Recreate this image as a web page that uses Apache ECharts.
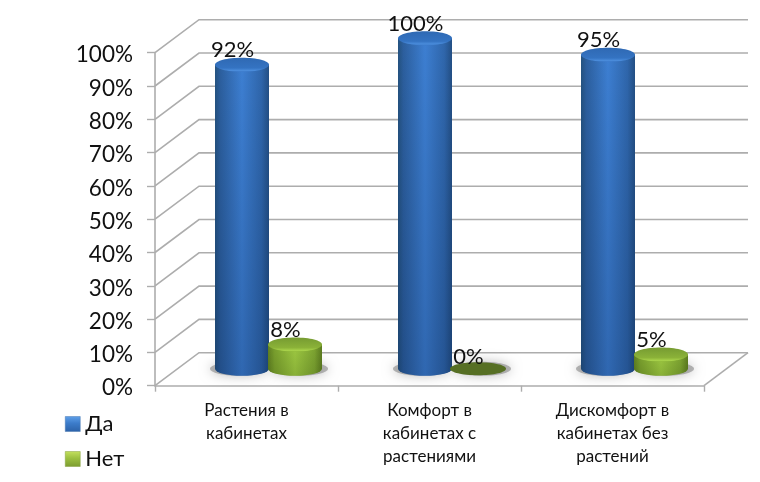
<!DOCTYPE html>
<html>
<head>
<meta charset="utf-8">
<style>html,body{margin:0;padding:0;background:#fff}#c{width:760px;height:482px}</style>
<script src="https://cdn.jsdelivr.net/npm/echarts@6/dist/echarts.min.js"></script>
</head>
<body>
<div id="c"></div>
<script>
const categories = ['Растения в\nкабинетах', 'Комфорт в\nкабинетах с\nрастениями', 'Дискомфорт в\nкабинетах без\nрастений'];
const seriesNames = ['Да', 'Нет'];
const valuesYes = [92, 100, 95];
const valuesNo = [8, 0, 5];
const yTicks = [0, 10, 20, 30, 40, 50, 60, 70, 80, 90, 100];

const FONT = 'Lato, "Open Sans", "Noto Sans", sans-serif';
const GRID_COLOR = '#adadad';
const DEPTH_X = 44, DEPTH_Y = 33;       // oblique projection of the 3D box
const TOP_LIFT = 14.5, BASE_LIFT = 17;  // where the cylinder ends sit inside the depth
const RX = 27, RY = 7;                  // cylinder radii
const BAR_OFFSET = 26.5;

const H = (stops) => ({type:'linear',x:0,y:0,x2:1,y2:0,colorStops:stops.map(s=>({offset:s[0],color:s[1]}))});
const V = (stops) => ({type:'linear',x:0,y:0,x2:0,y2:1,colorStops:stops.map(s=>({offset:s[0],color:s[1]}))});

const palette = {
  yes: {
    body: H([[0,'#24527f'],[.1,'#2c5f9e'],[.5,'#3d7fd2'],[.86,'#2f66ab'],[1,'#234f84']]),
    shade: V([[0,'rgba(0,20,60,0)'],[1,'rgba(0,20,60,.22)']]),
    top: V([[0,'#2f69b3'],[.72,'#3473c2'],[.92,'#4b8ddc'],[1,'#3a78c8']]),
    legend: V([[0,'#5fa0ea'],[.45,'#3c7cca'],[1,'#2c62a8']])
  },
  no: {
    body: H([[0,'#5f7f22'],[.12,'#7aa02e'],[.5,'#9ec942'],[.86,'#7ea532'],[1,'#5c7c20']]),
    shade: V([[0,'rgba(30,50,0,0)'],[1,'rgba(30,50,0,.16)']]),
    top: V([[0,'#769b32'],[.72,'#8bb238'],[.92,'#a8d24a'],[1,'#93bc3c']]),
    flat: '#566f24',
    legend: V([[0,'#c4e05e'],[.45,'#9cc040'],[1,'#7c9c30']])
  }
};

function center(api, sIdx) {
  const cat = api.coord([api.value(0), 0]);
  return cat[0] + DEPTH_X / 2 + (sIdx === 0 ? -BAR_OFFSET : BAR_OFFSET);
}

function renderWalls(params, api) {
  const cs = params.coordSys;
  const v = api.value(0);
  const y = api.coord([0, v])[1];
  const x0 = cs.x, x1 = cs.x + cs.width;
  const style = {stroke: GRID_COLOR, lineWidth: 1.6, fill: 'none'};
  const children = [
    {type:'polyline', shape:{points:[[x0,y],[x0+DEPTH_X,y-DEPTH_Y],[x1+DEPTH_X,y-DEPTH_Y]]}, style}
  ];
  if (v === 0) children.push({type:'line', shape:{x1:x1,y1:y,x2:x1+DEPTH_X,y2:y-DEPTH_Y}, style});
  return {type:'group', children};
}

function renderShadow(params, api) {
  const sIdx = api.value(2);
  const cx = center(api, sIdx);
  const base = api.coord([api.value(0), 0])[1] - BASE_LIFT;
  return {
    type:'ellipse',
    shape:{cx: cx + (sIdx === 0 ? -3 : 4), cy: base, rx: RX + 2, ry: RY},
    style:{fill:'rgba(135,135,135,.6)', shadowBlur:12, shadowColor:'rgba(125,125,125,.85)'},
    silent:true
  };
}

function makeRender(sIdx) {
  return function (params, api) {
    const p = sIdx === 0 ? palette.yes : palette.no;
    const val = api.value(1);
    const cx = center(api, sIdx);
    const pt = api.coord([api.value(0), val]);
    const base = api.coord([api.value(0), 0])[1] - BASE_LIFT;
    const topY = pt[1] - TOP_LIFT;
    const children = [];
    if (val > 0) {
      const body = `M${cx-RX} ${topY} L${cx-RX} ${base} A${RX} ${RY} 0 0 0 ${cx+RX} ${base} L${cx+RX} ${topY} Z`;
      children.push({type:'path', shape:{pathData:body}, style:{fill:p.body}});
      children.push({type:'path', shape:{pathData:body}, style:{fill:p.shade}});
      children.push({type:'ellipse', shape:{cx,cy:topY,rx:RX,ry:RY}, style:{fill:p.top}});
    } else {
      children.push({type:'ellipse', shape:{cx,cy:base,rx:RX+1,ry:RY-0.5}, style:{fill:p.flat||p.top}});
    }
    children.push({
      type:'text', z2:10,
      style:{text: val + '%', x: cx - 9.5, y: pt[1] - 29, align:'center', verticalAlign:'middle',
             fill:'#111', font:'22px ' + FONT}
    });
    return {type:'group', children};
  };
}

const pair = (arr, sIdx) => arr.map((v,i)=>[i,v,sIdx]);

const chart = echarts.init(document.getElementById('c'), null, {renderer:'canvas'});
chart.setOption({
  animation:false,
  backgroundColor:'#fff',
  grid:{left:155, right:56, top:52.7, bottom:96.3, containLabel:false},
  legend:{
    orient:'vertical', left:60, top:408, itemWidth:15, itemHeight:15, itemGap:13,
    icon:'rect', selectedMode:false,
    textStyle:{fontFamily:FONT, fontSize:22, color:'#111'},
    data:[
      {name:seriesNames[0], itemStyle:{color:palette.yes.legend, borderColor:'#4a78b0', borderWidth:.5}},
      {name:seriesNames[1], itemStyle:{color:palette.no.legend, borderColor:'#86a040', borderWidth:.5}}
    ]
  },
  xAxis:{
    type:'category', data:categories, boundaryGap:true,
    axisLine:{lineStyle:{color:GRID_COLOR,width:1.6}},
    axisTick:{show:true,length:6,alignWithLabel:false,lineStyle:{color:GRID_COLOR,width:1.4}},
    axisLabel:{margin:13,fontFamily:FONT,fontSize:17,lineHeight:23,color:'#111',interval:0}
  },
  yAxis:{
    type:'value', min:yTicks[0], max:yTicks[yTicks.length-1], interval:10,
    axisLine:{show:true,lineStyle:{color:GRID_COLOR,width:1.6}},
    axisTick:{show:true,length:8,lineStyle:{color:GRID_COLOR,width:1.4}},
    splitLine:{show:false},
    axisLabel:{formatter:'{value}%',margin:22,fontFamily:FONT,fontSize:22.5,color:'#111',verticalAlign:'top',lineHeight:5}
  },
  series:[
    {type:'custom', name:'walls', silent:true, clip:false, z:1, coordinateSystem:'cartesian2d',
     encode:{x:1,y:0}, data:yTicks.map(v=>[v,0]), renderItem:renderWalls},
    {type:'custom', name:'shadows', silent:true, clip:false, z:2, coordinateSystem:'cartesian2d',
     encode:{x:0,y:1}, data:pair(valuesYes,0).concat(pair(valuesNo,1)), renderItem:renderShadow},
    {type:'custom', name:seriesNames[0], clip:false, z:3, silent:true, coordinateSystem:'cartesian2d',
     encode:{x:0,y:1}, data:pair(valuesYes,0), renderItem:makeRender(0), itemStyle:{color:'#3a7ccf'}},
    {type:'custom', name:seriesNames[1], clip:false, z:4, silent:true, coordinateSystem:'cartesian2d',
     encode:{x:0,y:1}, data:pair(valuesNo,1), renderItem:makeRender(1), itemStyle:{color:'#9cc840'}}
  ]
});
</script>
</body>
</html>
